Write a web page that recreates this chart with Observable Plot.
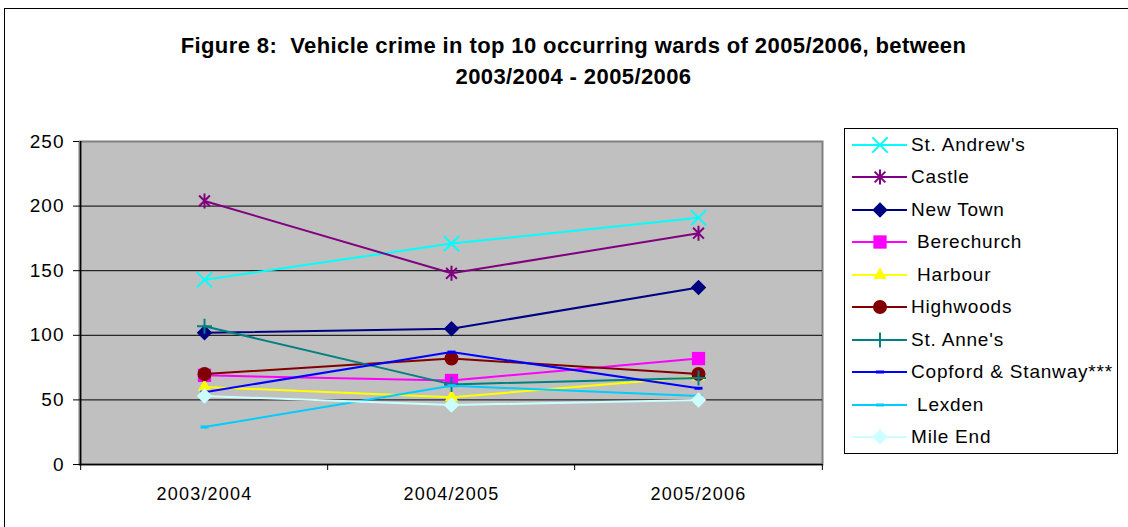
<!DOCTYPE html>
<html>
<head>
<meta charset="utf-8">
<script src="https://cdn.jsdelivr.net/npm/d3@7"></script>
<script src="https://cdn.jsdelivr.net/npm/@observablehq/plot@0.6"></script>
<style>
  html, body { margin: 0; padding: 0; background: #fff; overflow: hidden; }
  #wrap { position: relative; width: 1128px; height: 527px; overflow: hidden; font-family: "Liberation Sans", Arial, sans-serif; }
  #border { position: absolute; left: 4px; top: 8px; width: 1300px; height: 700px; border: 1.5px solid #000; box-sizing: border-box; }
  #title { position: absolute; left: 0; top: 30px; width: 1147px; text-align: center; font-weight: bold; font-size: 22px; letter-spacing: 0.4px; line-height: 31px; color: #000; }
  #chart { position: absolute; left: 0; top: 0; }
  #legend { position: absolute; left: 844px; top: 128px; width: 274px; height: 326px; border: 1.5px solid #000; box-sizing: border-box; background: #fff; }
  .lrow { position: absolute; left: 0; height: 32px; width: 270px; }
  .lrow svg { position: absolute; left: 5px; top: 0; }
  .lrow span { position: absolute; left: 66px; top: 0; line-height: 32px; font-size: 19px; letter-spacing: 0.8px; white-space: pre; color: #000; }
</style>
</head>
<body>
<div id="wrap">
  <div id="border"></div>
  <div id="title">Figure 8:&nbsp; Vehicle crime in top 10 occurring wards of 2005/2006, between<br>2003/2004 - 2005/2006</div>
  <div id="chart"></div>
  <div id="legend"></div>
</div>
<script>
// ---- data ----
const years = ["2003/2004", "2004/2005", "2005/2006"];
const wards = ["St. Andrew's", "Castle", "New Town", " Berechurch", " Harbour", "Highwoods", "St. Anne's", "Copford & Stanway***", " Lexden", "Mile End"];
const stAndrews  = [143, 171, 191];
const castle     = [204, 148, 179];
const newTown    = [102, 105, 137];
const berechurch = [69, 65, 82];
const harbour    = [60, 52, 68];
const highwoods  = [70, 82, 70];
const stAnnes    = [107, 62, 67];
const copford    = [56, 87, 59];
const lexden     = [29, 61, 53];
const mileEnd    = [53, 46, 50];
const yTicks = [0, 50, 100, 150, 200, 250];

const seriesValues = [stAndrews, castle, newTown, berechurch, harbour, highwoods, stAnnes, copford, lexden, mileEnd];
const colors = ["#00FFFF", "#800080", "#000080", "#FF00FF", "#FFFF00", "#800000", "#008080", "#0000FF", "#00CCFF", "#CCFFFF"];

// custom marker shapes
const starSym = { draw(ctx, size) { const r = Math.sqrt(size / Math.PI); const a = r * 0.72;
  ctx.moveTo(-a, -a); ctx.lineTo(a, a); ctx.moveTo(a, -a); ctx.lineTo(-a, a); ctx.moveTo(0, -r); ctx.lineTo(0, r); } };
const dashSym = { draw(ctx, size) { const r = Math.sqrt(size / Math.PI);
  ctx.moveTo(-r, -1.5); ctx.lineTo(r, -1.5); ctx.lineTo(r, 1.5); ctx.lineTo(-r, 1.5); ctx.closePath(); } };

// marker style per series
const markers = [
  { symbol: "times", r: 7, filled: false },
  { symbol: starSym, r: 7.5, filled: false },
  { symbol: "diamond2", r: 7, filled: true },
  { symbol: "square", r: 7.5, filled: true },
  { symbol: "triangle", r: 5, filled: true },
  { symbol: "circle", r: 7, filled: true },
  { symbol: "plus", r: 4.9, filled: false },
  { symbol: dashSym, r: 4, filled: true },
  { symbol: dashSym, r: 4, filled: true },
  { symbol: "diamond2", r: 7, filled: true }
];

const rows = [];
wards.forEach((w, i) => years.forEach((y, j) => rows.push({ ward: w, year: y, value: seriesValues[i][j], idx: i })));

const W = 1128, H = 527, mL = 79, mR = 306, mT = 141, mB = 63;
const step = (W - mL - mR) / years.length;

const marks = [
  Plot.frame({ fill: "#C0C0C0", stroke: "#808080", strokeWidth: 2 }),
  Plot.ruleY(yTicks.filter(d => d > 0 && d < 250), { stroke: "#000", strokeWidth: 1 }),
  Plot.ruleY([0], { stroke: "#000", strokeWidth: 1.5 }),
  Plot.ruleX([years[0]], { x: d => d, dx: -step / 2, y1: 0, y2: 250, stroke: "#000", strokeWidth: 1.5 }),
  Plot.axisY({ ticks: yTicks, tickSize: 6, tickPadding: 9, label: null, fontSize: 19, tickFormat: d => d }),
  Plot.axisX({ ticks: years, tickSize: 6, tickFormat: () => "", dx: -step / 2, label: null }),
  Plot.axisX({ ticks: [years[years.length - 1]], tickSize: 6, tickFormat: () => "", dx: step / 2, label: null }),
  Plot.axisX({ ticks: years, tickSize: 0, tickPadding: 23, label: null, fontSize: 18 })
];
wards.forEach((w, i) => {
  const data = rows.filter(d => d.idx === i);
  const m = markers[i];
  marks.push(Plot.line(data, { x: "year", y: "value", stroke: colors[i], strokeWidth: 2 }));
  marks.push(Plot.dot(data, {
    x: "year", y: "value", symbol: m.symbol, r: m.r,
    fill: m.filled ? colors[i] : "none",
    stroke: colors[i], strokeWidth: m.filled ? 0 : 2
  }));
});

const chart = Plot.plot({
  width: W, height: H,
  marginLeft: mL, marginRight: mR, marginTop: mT, marginBottom: mB,
  style: { fontFamily: "'Liberation Sans', Arial, sans-serif", fontSize: "18px", color: "#000", background: "transparent", overflow: "visible" },
  x: { type: "point", domain: years, padding: 0.5, axis: null },
  y: { domain: [0, 250], axis: null },
  marks
});
d3.select(chart).selectAll('g[aria-label="y-axis tick label"]').style("letter-spacing", "1px");
d3.select(chart).selectAll('g[aria-label="x-axis tick label"]').style("letter-spacing", "1.2px");
document.getElementById("chart").appendChild(chart);

// ---- legend ----
const legend = d3.select("#legend");
const symMap = { times: d3.symbolTimes, "diamond2": d3.symbolDiamond2, square: d3.symbolSquare, triangle: d3.symbolTriangle, circle: d3.symbolCircle, plus: d3.symbolPlus };
wards.forEach((w, i) => {
  const row = legend.append("div").attr("class", "lrow").style("top", (32.5 * i - 0.5) + "px");
  const svg = row.append("svg").attr("width", 60).attr("height", 32);
  svg.append("line").attr("x1", 2).attr("x2", 57).attr("y1", 16).attr("y2", 16).attr("stroke", colors[i]).attr("stroke-width", 2);
  const m = markers[i];
  const type = typeof m.symbol === "string" ? symMap[m.symbol] : m.symbol;
  svg.append("path").attr("transform", "translate(30,16)")
    .attr("d", d3.symbol(type, Math.PI * m.r * m.r)())
    .attr("fill", m.filled ? colors[i] : "none")
    .attr("stroke", m.filled ? "none" : colors[i]).attr("stroke-width", 2);
  row.append("span").text(w);
});
</script>
</body>
</html>
